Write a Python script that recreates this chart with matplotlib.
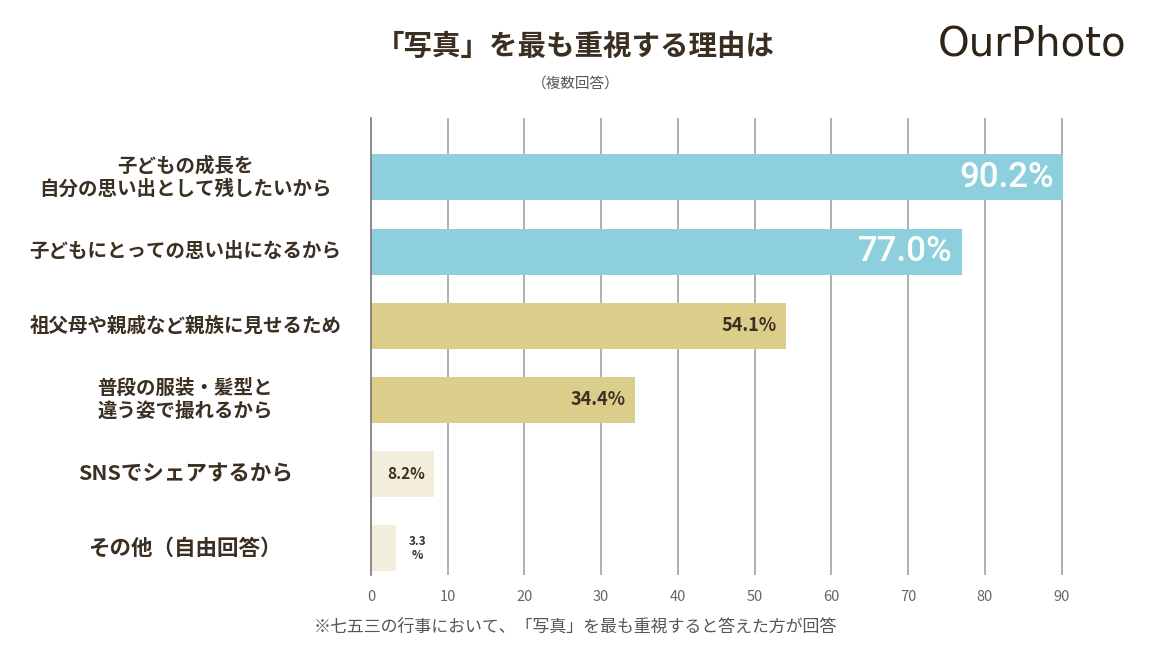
import numpy as np
import matplotlib.pyplot as plt

plt.rcParams['font.family'] = ['Noto Sans CJK JP', 'DejaVu Sans']

labels = ['子どもの成長を\n自分の思い出として残したいから',
          '子どもにとっての思い出になるから',
          '祖父母や親戚など親族に見せるため',
          '普段の服装・髪型と\n違う姿で撮れるから',
          'SNSでシェアするから',
          'その他（自由回答）']
values = [90.2, 77.0, 54.1, 34.4, 8.2, 3.3]
value_text = ['90.2%', '77.0%', '54.1%', '34.4%', '8.2%', '3.3\n%']
bar_colors = ['#8dcfdc', '#8dcfdc', '#dbcd8a', '#dbcd8a', '#f3eedb', '#f3eedb']
ticks = [0, 10, 20, 30, 40, 50, 60, 70, 80, 90]

brown = '#3b2f22'

fig = plt.figure(figsize=(11.51, 6.49), dpi=100)
ax = fig.add_axes([371/1151, 1-575/649, (1077-371)/1151, (575-118)/649])

y = np.arange(len(values))
ax.barh(y, values, height=0.62, color=bar_colors, zorder=2)
ax.set_ylim(5.36, -0.8)
ax.set_xlim(0, 92)

ax.set_xticks(ticks)
ax.set_xticklabels([str(t) for t in ticks], fontsize=10.5, color='#666666')
ax.tick_params(axis='x', length=0, pad=11)
ax.set_yticks([])
for t in ticks[1:]:
    ax.axvline(t, color='#9a9a9a', lw=1.1, zorder=1)
for s in ['top', 'right', 'bottom']:
    ax.spines[s].set_visible(False)
ax.spines['left'].set_color('#777777')
ax.spines['left'].set_linewidth(1.2)

# category labels, centred to the left of the axis
label_sizes = [14, 14, 14, 14, 15.5, 15.5]
for i, lab in enumerate(labels):
    ax.text(-24.2, i, lab, ha='center', va='center', fontsize=label_sizes[i],
            fontweight='bold', color=brown, linespacing=1.3)

# value labels
sizes = [25, 25, 13, 13, 11, 8.5]
for i, (v, txt) in enumerate(zip(values, value_text)):
    if i < 2:
        ax.text(v - 1.2, i, txt, ha='right', va='center', fontsize=sizes[i],
                fontweight='medium', color='white', family=['Roboto', 'DejaVu Sans'])
    elif i < 5:
        ax.text(v - 1.2, i, txt, ha='right', va='center', fontsize=sizes[i],
                fontweight='bold', color=brown)
    else:
        ax.text(v + 2.8, i, txt, ha='center', va='center', fontsize=sizes[i],
                fontweight='bold', color=brown, linespacing=1.1)

fig.text(0.5, 1-47/649, '「写真」を最も重視する理由は', ha='center', va='center',
         fontsize=20.5, fontweight='bold', color=brown)
fig.text(0.5, 1-84/649, '（複数回答）', ha='center', va='center',
         fontsize=10.5, color='#555555')
fig.text(1032/1151, 1-45/649, 'OurPhoto', ha='center', va='center',
         fontsize=29, color='#2e2418', family=['DejaVu Sans'])
fig.text(0.5, 1-627/649, '※七五三の行事において、「写真」を最も重視すると答えた方が回答',
         ha='center', va='center', fontsize=12.2, color='#555555')

fig.savefig('out.png', dpi=100, facecolor='white')
